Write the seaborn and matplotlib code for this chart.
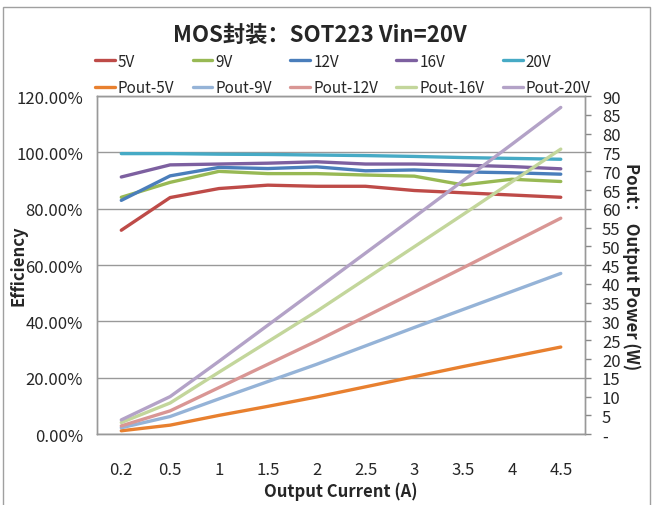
import numpy as np
import pandas as pd
import seaborn as sns
import matplotlib.pyplot as plt
from matplotlib.patches import Rectangle

# =============================================================================
# DATA
# =============================================================================
CURRENTS = ["0.2", "0.5", "1", "1.5", "2", "2.5", "3", "3.5", "4", "4.5"]

EFF_5V = [72.4, 84.0, 87.2, 88.4, 88.0, 88.0, 86.5, 85.7, 84.9, 84.1]
EFF_9V = [84.1, 89.4, 93.3, 92.5, 92.5, 92.0, 91.6, 88.5, 90.5, 89.7]
EFF_12V = [83.0, 91.7, 94.7, 94.3, 94.9, 93.5, 93.8, 93.1, 92.8, 92.3]
EFF_16V = [91.3, 95.6, 95.9, 96.2, 96.7, 95.9, 95.9, 95.5, 95.0, 94.2]
EFF_20V = [99.6, 99.6, 99.4, 99.3, 99.1, 98.9, 98.6, 98.2, 97.9, 97.6]

POUT_5V = [0.9, 2.4, 5.0, 7.4, 9.9, 12.6, 15.3, 18.0, 20.6, 23.2]
POUT_9V = [1.7, 4.7, 9.4, 14.0, 18.6, 23.5, 28.4, 33.2, 38.0, 42.8]
POUT_12V = [2.2, 6.2, 12.4, 18.6, 24.8, 31.3, 37.8, 44.3, 50.9, 57.5]
POUT_16V = [3.1, 8.3, 16.5, 24.6, 32.7, 41.3, 49.9, 58.5, 67.2, 75.9]
POUT_20V = [3.8, 10.0, 19.4, 29.0, 38.6, 48.2, 57.8, 67.5, 77.2, 87.0]

EFF_NAMES = ["5V", "9V", "12V", "16V", "20V"]
POUT_NAMES = ["Pout-5V", "Pout-9V", "Pout-12V", "Pout-16V", "Pout-20V"]

LEFT_TICKS = [0, 20, 40, 60, 80, 100, 120]
RIGHT_TICKS = list(range(0, 95, 5))
RIGHT_TICK_LABELS = ["-"] + [str(v) for v in RIGHT_TICKS[1:]]

COLORS = {
    "5V": "#BE4B48",
    "9V": "#98B954",
    "12V": "#4A7EBB",
    "16V": "#7D60A0",
    "20V": "#46AAC5",
    "Pout-5V": "#E8802F",
    "Pout-9V": "#95B3D7",
    "Pout-12V": "#D99694",
    "Pout-16V": "#C3D69B",
    "Pout-20V": "#B3A2C7",
}


def to_long(names, series):
    frames = []
    for name, vals in zip(names, series):
        frames.append(pd.DataFrame({
            "pos": np.arange(len(CURRENTS)),
            "value": vals,
            "Series": name,
        }))
    return pd.concat(frames, ignore_index=True)


eff_df = to_long(EFF_NAMES, [EFF_5V, EFF_9V, EFF_12V, EFF_16V, EFF_20V])
pout_df = to_long(POUT_NAMES, [POUT_5V, POUT_9V, POUT_12V, POUT_16V, POUT_20V])

# =============================================================================
# PLOT
# =============================================================================
sns.set_style("white")
plt.rcParams["font.family"] = ["Noto Sans CJK SC", "DejaVu Sans"]

fig = plt.figure(figsize=(6.59, 5.06), dpi=100)
ax = fig.add_axes([0.147, 0.140, 0.741, 0.668])
ax2 = ax.twinx()

# outer chart border
fig.patches.append(Rectangle((3 / 659, -0.01), 647 / 659, 1 - 8 / 506 + 0.01,
                             transform=fig.transFigure, fill=False,
                             edgecolor="#A0A0A0", linewidth=1))

sns.lineplot(data=eff_df, x="pos", y="value", hue="Series",
             hue_order=EFF_NAMES, palette=COLORS, linewidth=2.4, ax=ax,
             legend=False)
sns.lineplot(data=pout_df, x="pos", y="value", hue="Series",
             hue_order=POUT_NAMES, palette=COLORS, linewidth=2.4, ax=ax2,
             legend=False)

ax.set_xlim(-0.5, len(CURRENTS) - 0.5)
ax.set_ylim(0, 120)
ax2.set_ylim(0, 90)

ax.set_xticks(range(len(CURRENTS)))
ax.set_xticklabels(CURRENTS, fontsize=12)
ax.set_yticks(LEFT_TICKS)
ax.set_yticklabels([f"{v:.2f}%" for v in LEFT_TICKS], fontsize=12)
ax2.set_yticks(RIGHT_TICKS)
ax2.set_yticklabels(RIGHT_TICK_LABELS, fontsize=12)

ax.tick_params(axis="x", length=0, pad=19)
ax.tick_params(axis="y", length=0, pad=10)
ax2.tick_params(axis="y", length=4, width=1, color="#888888", pad=8,
                direction="out")

ax.yaxis.grid(True, color="#999999", linewidth=1)
ax.set_axisbelow(True)
for a in (ax, ax2):
    for sp in a.spines.values():
        sp.set_color("#999999")
        sp.set_linewidth(1)

ax.set_xlabel("Output Current (A)", fontsize=12, fontweight="bold",
              labelpad=3)
ax.set_ylabel("Efficiency", fontsize=12, fontweight="bold", labelpad=-8)
ax2.set_ylabel("Pout： Output Power (W)", fontsize=12, fontweight="bold",
               rotation=-90, labelpad=14)

fig.text(0.485, 0.93, "MOS封装：SOT223 Vin=20V", ha="center", va="center",
         fontsize=16, fontweight="bold")

# legend: first row efficiency, second row output power
handles, labels = [], []
for e, p in zip(EFF_NAMES, POUT_NAMES):
    for name in (e, p):
        handles.append(plt.Line2D([], [], color=COLORS[name], linewidth=2.4))
        labels.append(name)
fig.legend(handles, labels, ncol=5, loc="center", bbox_to_anchor=(0.52, 0.851),
           frameon=False, fontsize=11, handlelength=1.3, handletextpad=0.2,
           columnspacing=1.2, labelspacing=0.6)

fig.savefig("out.png", dpi=100)
